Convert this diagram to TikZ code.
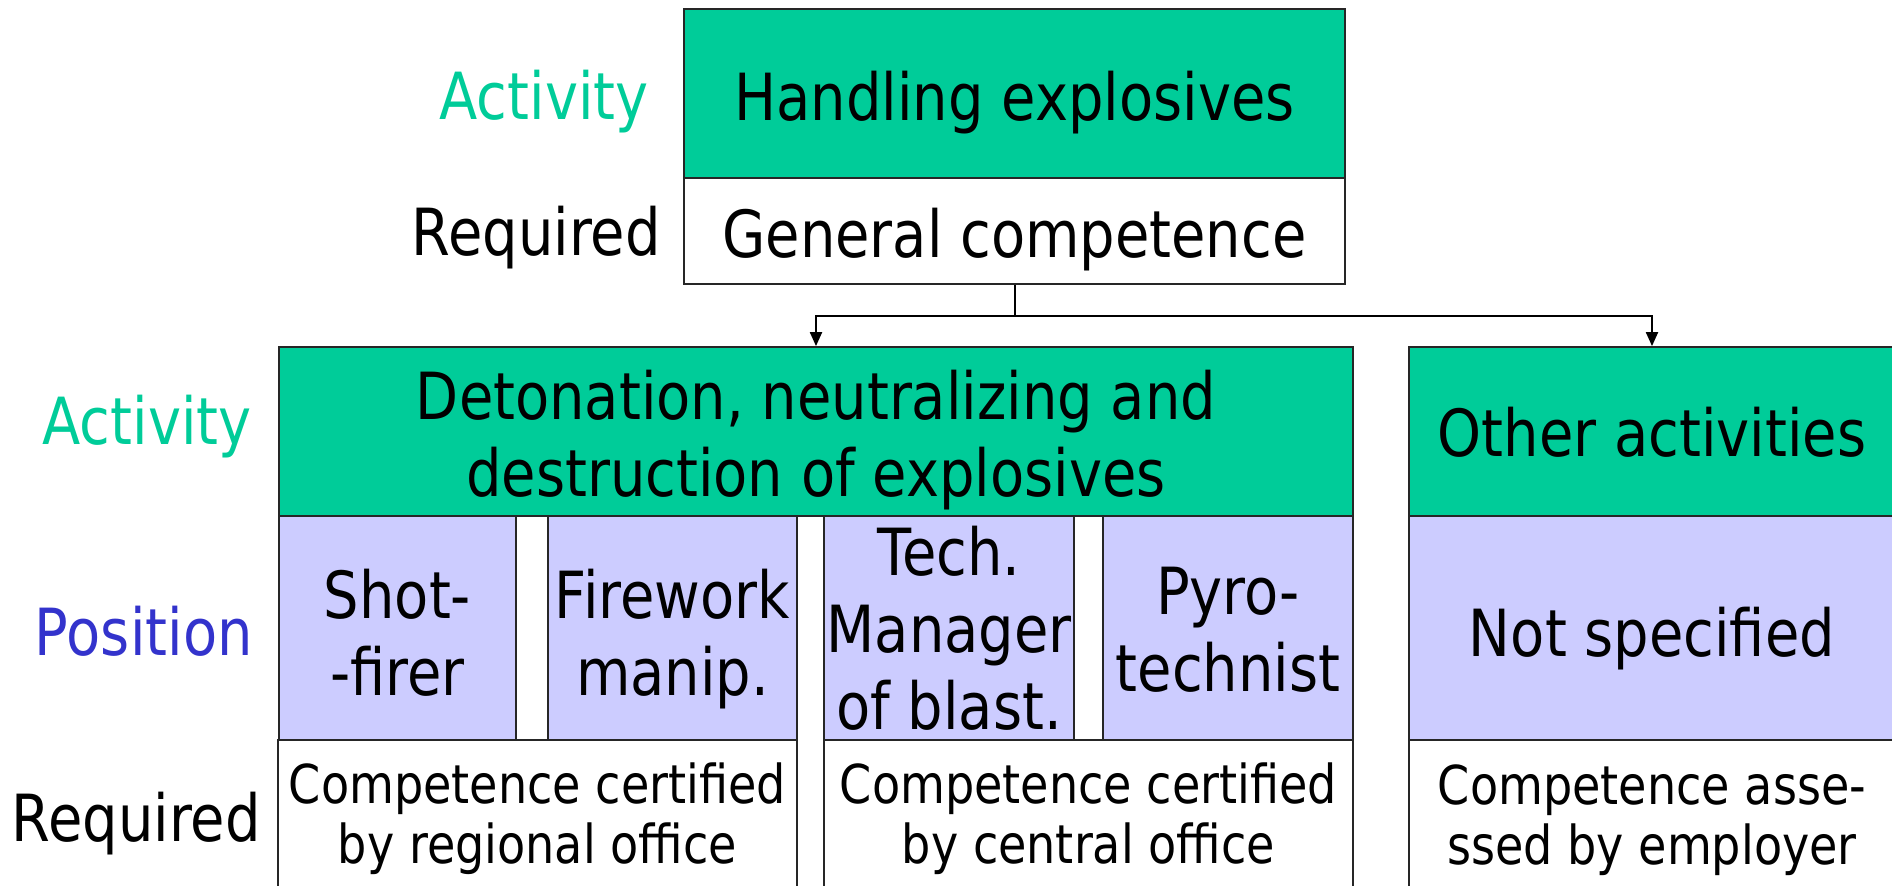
\documentclass[tikz,border=0pt]{standalone}
\usepackage{fontspec}
\setmainfont[FakeStretch=0.86]{DejaVu Sans}
\usetikzlibrary{arrows.meta,fit}
\definecolor{actgreen}{RGB}{0,204,153}
\definecolor{posfill}{RGB}{204,204,255}
\definecolor{poscol}{RGB}{51,51,204}
\begin{document}
\begin{tikzpicture}[x=0.5pt,y=-0.5pt,
  boxst/.style={draw=black!85, line width=0.9pt, inner sep=0pt},
  actbox/.style={boxst, fill=actgreen},
  posbox/.style={boxst, fill=posfill},
  reqbox/.style={boxst, fill=white},
  bigtxt/.style={font=\fontsize{32.5}{38.5}\selectfont, align=center, anchor=base, inner sep=0pt},
  smalltxt/.style={font=\fontsize{26.8}{30}\selectfont, align=center, anchor=base, inner sep=0pt},
  conn/.style={line width=1pt, -{Triangle[width=6pt,length=7pt]}}]
\useasboundingbox (0,0) rectangle (1892,885);
\clip (0,0) rectangle (1892,885);
% boxes
\node[actbox, fit={(684,9)(1345,178)}] (hx) {};
\node[reqbox, fit={(684,178)(1345,284)}] (gc) {};
\node[actbox, fit={(279,347)(1353,516)}] (det) {};
\node[posbox, fit={(279,516)(516,740)}] (shot) {};
\node[posbox, fit={(548,516)(797,740)}] (fire) {};
\node[posbox, fit={(824,516)(1074,740)}] (tech) {};
\node[posbox, fit={(1103,516)(1353,740)}] (pyro) {};
\node[reqbox, fit={(278,740)(797,900)}] (reg) {};
\node[reqbox, fit={(824,740)(1353,900)}] (cen) {};
\node[actbox, fit={(1409,347)(1895,516)}] (oth) {};
\node[posbox, fit={(1409,516)(1895,740)}] (ns) {};
\node[reqbox, fit={(1409,740)(1895,900)}] (emp) {};
% texts (base anchor = baseline of the last line)
\node[bigtxt] (t1) at (1014.5,120) {Handling explosives};
\node[bigtxt] (t2) at (1014.5,257) {General competence};
\node[bigtxt] (t3) at (816,496) {Detonation, neutralizing and\\destruction of explosives};
\node[bigtxt] (t4) at (1652,456) {Other activities};
\node[bigtxt] (t5) at (397.5,695) {Shot-\\-firer};
\node[bigtxt] (t6) at (672.5,695) {Firework\\manip.};
\node[bigtxt] (t7) at (949,729) {Tech.\\Manager\\of blast.};
\node[bigtxt] (t8) at (1228,691) {Pyro-\\technist};
\node[bigtxt] (t9) at (1652,656) {Not specified};
\node[smalltxt] (t10) at (537.5,863) {Competence certified\\by regional office};
\node[smalltxt] (t11) at (1088.5,863) {Competence certified\\by central office};
\node[smalltxt] (t12) at (1652,864) {Competence asse-\\ssed by employer};
% row labels
\node[bigtxt, anchor=base east, text=actgreen] (l1) at (649,119) {Activity};
\node[bigtxt, anchor=base east] (l2) at (661,255) {Required};
\node[bigtxt, anchor=base east, text=actgreen] (l3) at (252,444) {Activity};
\node[bigtxt, anchor=base east, text=poscol] (l4) at (253,655) {Position};
\node[bigtxt, anchor=base east] (l5) at (261,841) {Required};
% connectors
\draw[line width=1pt] (gc.south) -- ++(0,31) coordinate (j);
\draw[conn] (j) -| (det.north);
\draw[conn] (j) -| (oth.north);
\end{tikzpicture}
\end{document}
